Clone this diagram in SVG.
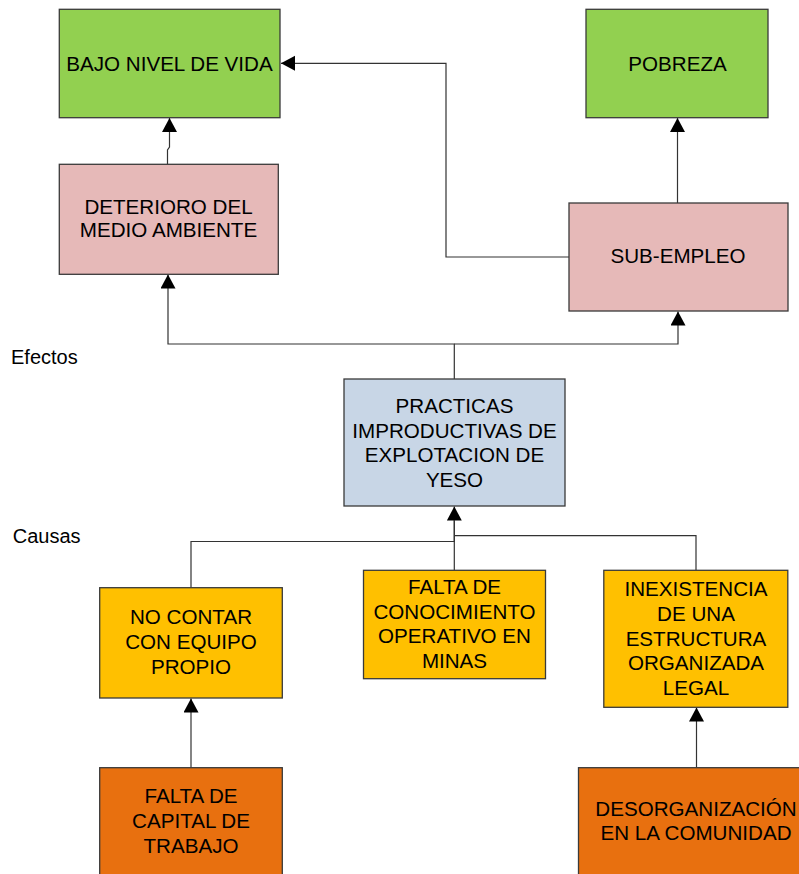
<svg xmlns="http://www.w3.org/2000/svg" width="799" height="874" viewBox="0 0 799 874">
<style>
.box{stroke:#3a3a3a;stroke-width:1.3}
.g{fill:#92D050}.p{fill:#E6B9B8}.b{fill:#C8D6E6}.y{fill:#FFC000}.o{fill:#E8700F}
text{font-family:"Liberation Sans",Arial,sans-serif;font-size:20px;fill:#000}
.c{text-anchor:middle;font-size:20.6px}
.ln{fill:none;stroke:#333;stroke-width:1.2}
.ar{marker-end:url(#ah)}
</style>
<defs>
<marker id="ah" markerUnits="userSpaceOnUse" markerWidth="15" markerHeight="16" refX="14" refY="7.5" orient="auto">
<path d="M0,0 L14,7.5 L0,15 z" fill="#000"/>
</marker>
</defs>
<rect width="799" height="874" fill="#fff"/>
<g id="connectors">
<path class="ln ar" d="M569,257 L446,257 L446,63.3 L281,63.3"/>
<path class="ln ar" d="M167.5,164.3 L167.5,150 L169.5,147 L169.5,118"/>
<path class="ln ar" d="M677.5,203 L677.5,118"/>
<path class="ln ar" d="M454.3,379 L454.3,344 L168,344 L168,274.5"/>
<path class="ln ar" d="M454.3,344 L678,344 L678,311.5"/>
<path class="ln ar" d="M191,587.7 L191,541.5 L454.3,541.5 L454.3,506.5"/>
<path class="ln" d="M454.3,570.3 L454.3,520"/>
<path class="ln" d="M696,570.3 L696,535.7 L454.3,535.7"/>
<path class="ln ar" d="M191,767.7 L191,698.5"/>
<path class="ln ar" d="M696.5,767.7 L696.5,707.5"/>
</g>
<g id="bajo-nivel-de-vida">
<rect class="box g" x="59.3" y="9.3" width="220.7" height="108.4"/>
<text class="c" x="169.5" y="70.7">BAJO NIVEL DE VIDA</text>
</g>
<g id="pobreza">
<rect class="box g" x="586" y="9.3" width="182" height="108.4"/>
<text class="c" x="677.5" y="70.7">POBREZA</text>
</g>
<g id="deterioro">
<rect class="box p" x="59.3" y="164.3" width="219" height="110"/>
<text class="c" x="168.5" y="214.3">DETERIORO DEL</text>
<text class="c" x="168.5" y="237.3">MEDIO AMBIENTE</text>
</g>
<g id="sub-empleo">
<rect class="box p" x="569" y="203" width="219" height="108"/>
<text class="c" x="678" y="263.3">SUB-EMPLEO</text>
</g>
<g id="practicas">
<rect class="box b" x="344" y="379" width="221" height="127"/>
<text class="c" x="454.5" y="413.3">PRACTICAS</text>
<text class="c" x="454.5" y="437.5">IMPRODUCTIVAS DE</text>
<text class="c" x="454.5" y="461.7">EXPLOTACION DE</text>
<text class="c" x="454.5" y="486.5">YESO</text>
</g>
<g id="no-contar">
<rect class="box y" x="99.7" y="587.7" width="182.6" height="110.3"/>
<text class="c" x="191" y="624">NO CONTAR</text>
<text class="c" x="191" y="649">CON EQUIPO</text>
<text class="c" x="191" y="674">PROPIO</text>
</g>
<g id="falta-conocimiento">
<rect class="box y" x="363.5" y="570.3" width="182" height="108.4"/>
<text class="c" x="454.5" y="594">FALTA DE</text>
<text class="c" x="454.5" y="618.5">CONOCIMIENTO</text>
<text class="c" x="454.5" y="643">OPERATIVO EN</text>
<text class="c" x="454.5" y="667.5">MINAS</text>
</g>
<g id="inexistencia">
<rect class="box y" x="603.8" y="570.3" width="184" height="137"/>
<text class="c" x="696" y="596">INEXISTENCIA</text>
<text class="c" x="696" y="621">DE UNA</text>
<text class="c" x="696" y="645.7">ESTRUCTURA</text>
<text class="c" x="696" y="670.3">ORGANIZADA</text>
<text class="c" x="696" y="695">LEGAL</text>
</g>
<g id="falta-capital">
<rect class="box o" x="99.7" y="767.7" width="182.6" height="120"/>
<text class="c" x="191" y="803.3">FALTA DE</text>
<text class="c" x="191" y="828.3">CAPITAL DE</text>
<text class="c" x="191" y="853.3">TRABAJO</text>
</g>
<g id="desorganizacion">
<rect class="box o" x="578.5" y="767.7" width="235" height="120"/>
<text class="c" x="696" y="816">DESORGANIZACIÓN</text>
<text class="c" x="696" y="840">EN LA COMUNIDAD</text>
</g>
<g id="labels">
<text x="11" y="364.3">Efectos</text>
<text x="12.7" y="542.7">Causas</text>
</g>
</svg>
